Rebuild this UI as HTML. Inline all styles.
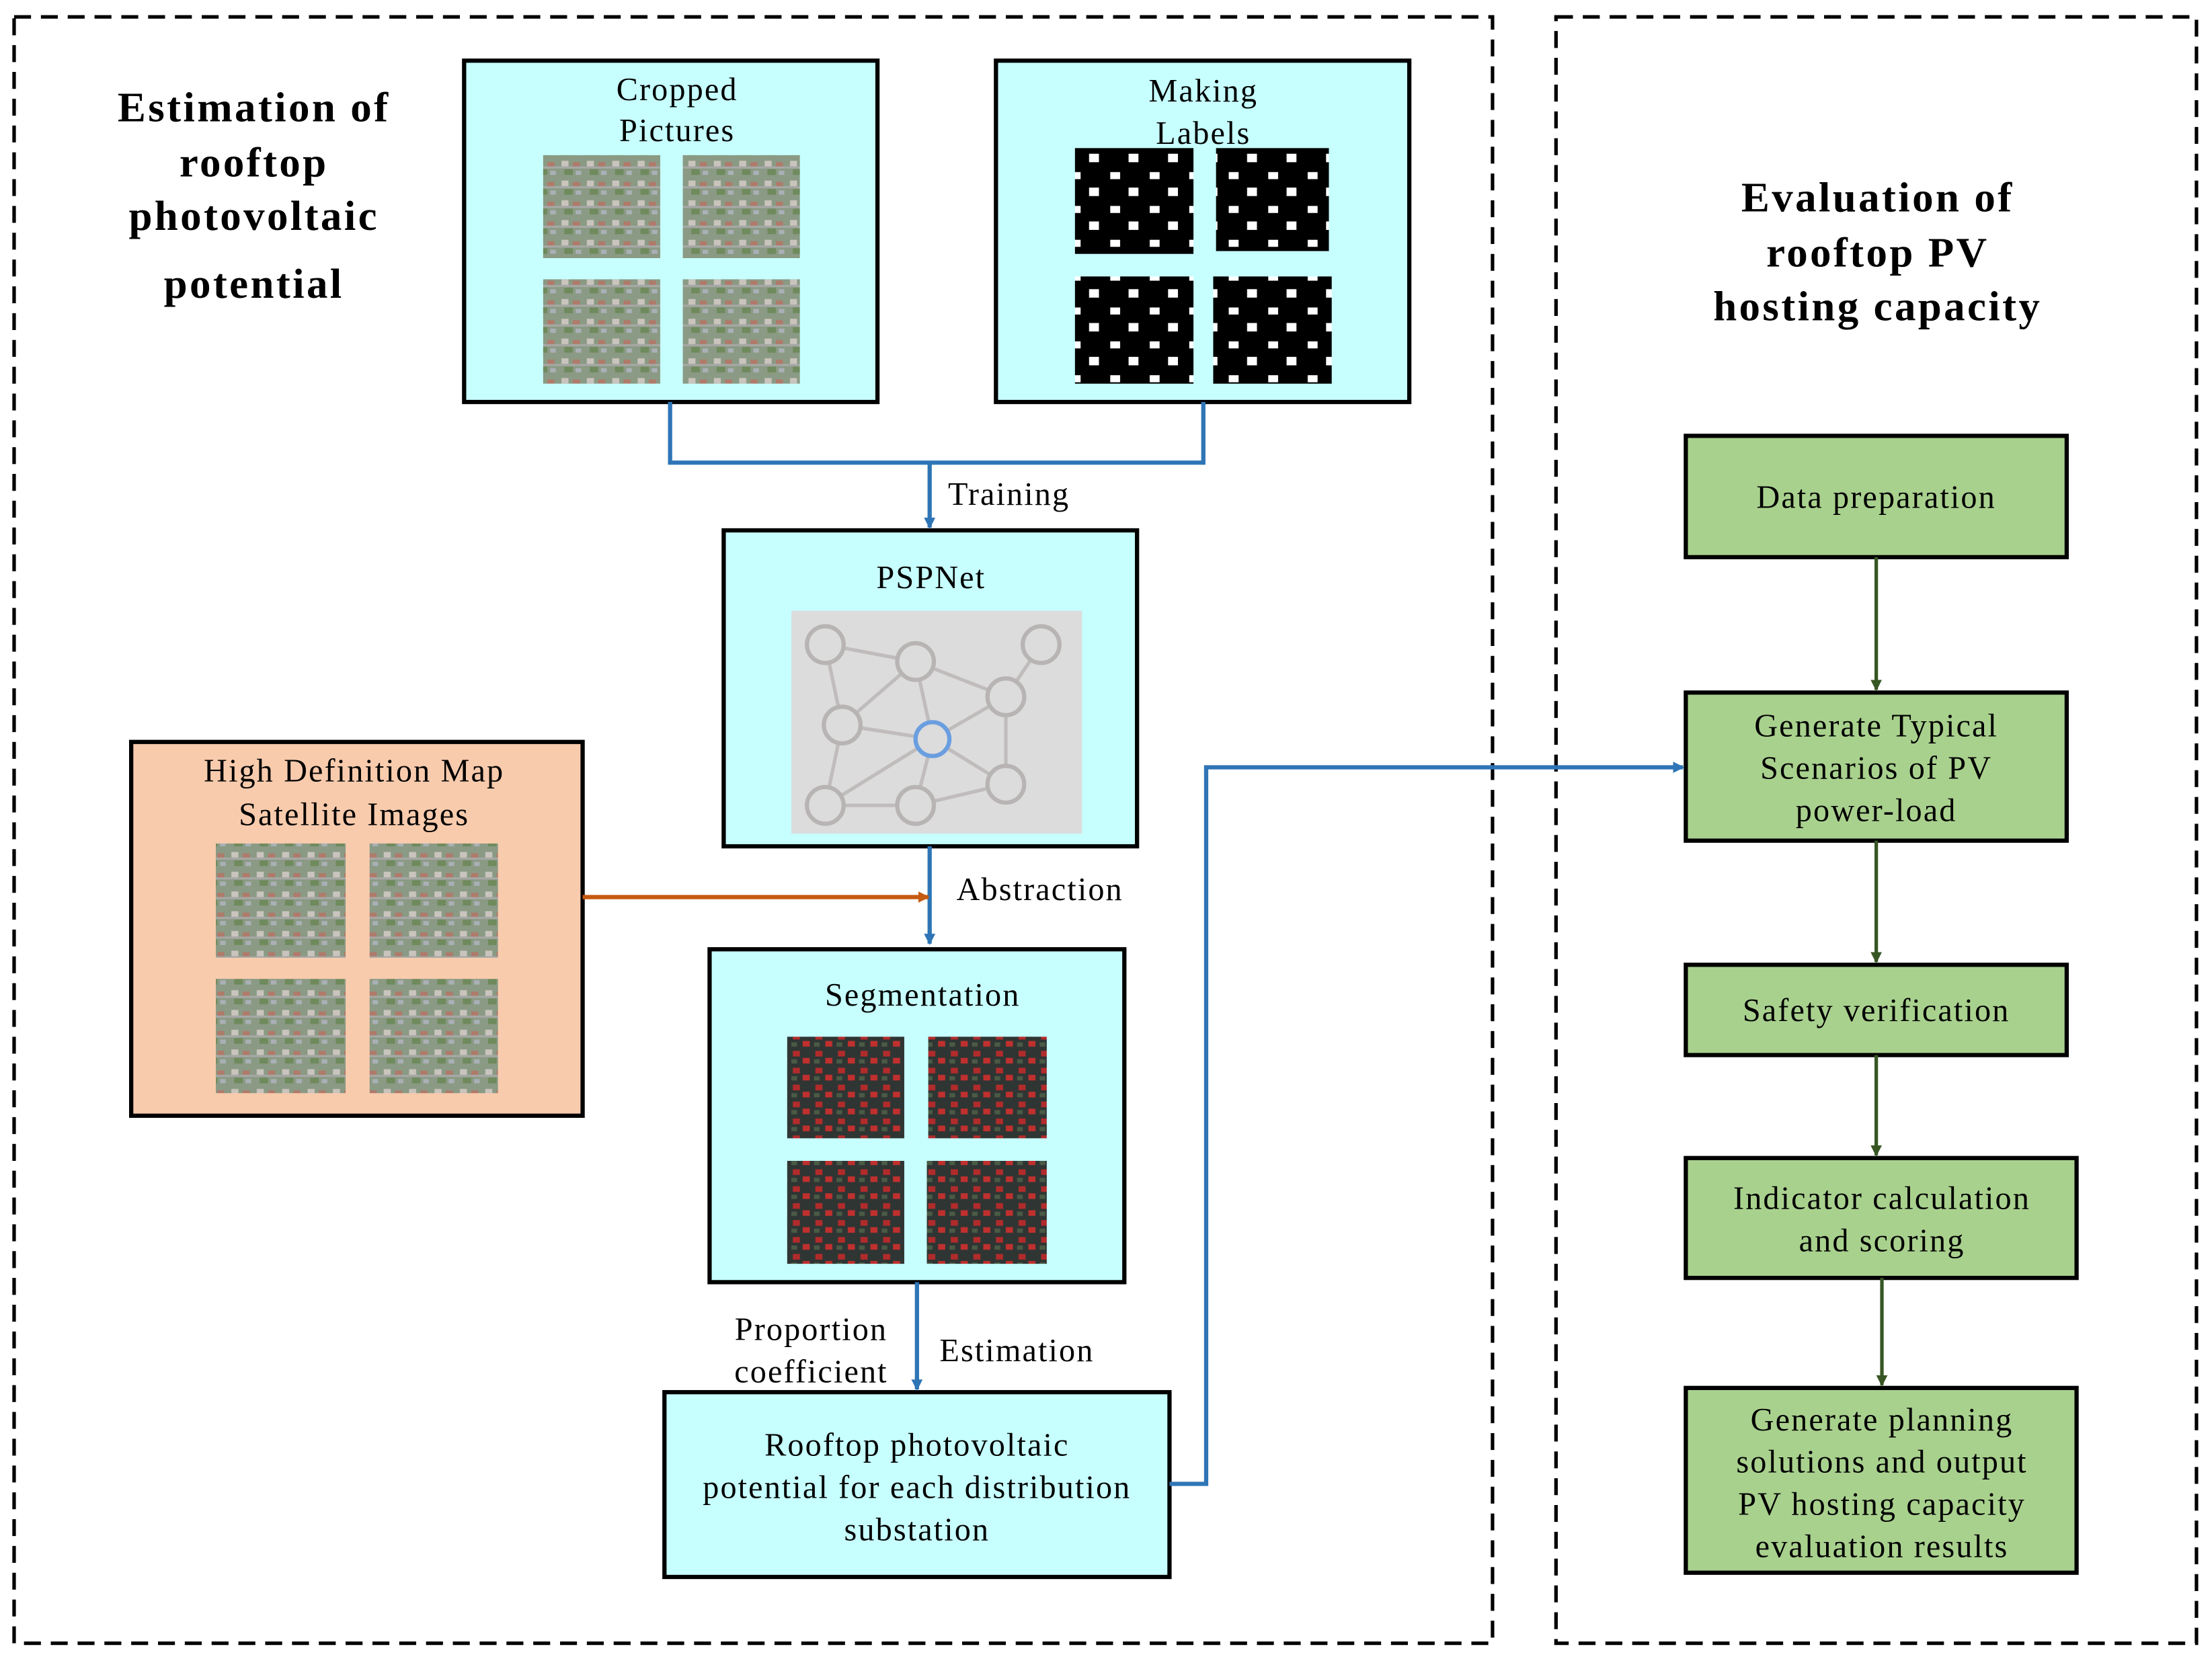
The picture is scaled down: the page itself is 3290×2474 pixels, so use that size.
<!DOCTYPE html>
<html><head><meta charset="utf-8"><style>html,body{margin:0;padding:0;background:#fff}svg{display:block}</style></head>
<body>
<svg width="3290" height="2474" viewBox="0 0 1568 1179" preserveAspectRatio="none" xmlns="http://www.w3.org/2000/svg" style="font-family:'Liberation Serif',serif">
<defs>
<pattern id="aer" width="18" height="14" patternUnits="userSpaceOnUse">
<rect width="18" height="14" fill="#8a9a84"/>
<rect x="2" y="2" width="5" height="4" fill="#c9c4bd"/><rect x="10" y="3" width="5" height="4" fill="#b07a6a"/>
<rect x="4" y="8" width="6" height="4" fill="#6f8a5c"/><rect x="12" y="9" width="4" height="3" fill="#aab0b6"/>
<rect x="0" y="6" width="18" height="1.5" fill="#a7a8a6"/>
</pattern>
<pattern id="seg" width="16" height="12" patternUnits="userSpaceOnUse">
<rect width="16" height="12" fill="#2f3533"/>
<rect x="2" y="1" width="5" height="4" fill="#b22b2b"/><rect x="9" y="6" width="5" height="4" fill="#c0302e"/>
<rect x="1" y="7" width="4" height="3" fill="#4a5a45"/>
</pattern>
<pattern id="lab" width="28" height="24" patternUnits="userSpaceOnUse">
<rect width="28" height="24" fill="#000"/>
<rect x="3" y="2" width="7" height="5" fill="#fff"/><rect x="16" y="13" width="7" height="6" fill="#fff"/>
</pattern>
<marker id="ab" markerWidth="8" markerHeight="8" refX="7" refY="4" orient="auto" markerUnits="userSpaceOnUse"><path d="M0,0 L8,4 L0,8z" fill="#2e75b6"/></marker>
<marker id="ao" markerWidth="8" markerHeight="8" refX="7" refY="4" orient="auto" markerUnits="userSpaceOnUse"><path d="M0,0 L8,4 L0,8z" fill="#c55a11"/></marker>
<marker id="ag" markerWidth="8" markerHeight="8" refX="7" refY="4" orient="auto" markerUnits="userSpaceOnUse"><path d="M0,0 L8,4 L0,8z" fill="#375623"/></marker>
</defs>
<rect x="10" y="12" width="1048" height="1153" fill="none" stroke="#000" stroke-width="2.5" stroke-dasharray="12,7"/>
<rect x="1103" y="12" width="454" height="1153" fill="none" stroke="#000" stroke-width="2.5" stroke-dasharray="12,7"/>
<g font-weight="bold" font-size="30" letter-spacing="1.6" text-anchor="middle">
<text x="180" y="86">Estimation of</text><text x="180" y="125">rooftop</text><text x="180" y="163">photovoltaic</text><text x="180" y="211">potential</text>
<text x="1331" y="150">Evaluation of</text><text x="1331" y="189">rooftop PV</text><text x="1331" y="227">hosting capacity</text>
</g>
<g stroke="#000" stroke-width="3" fill="#c7ffff">
<rect x="329" y="43" width="293" height="242"/><rect x="706" y="43" width="293" height="242"/>
<rect x="513" y="376" width="293" height="224"/><rect x="503" y="673" width="294" height="236"/>
<rect x="471" y="987" width="358" height="131"/>
<rect x="93" y="526" width="320" height="265" fill="#f8cbad"/>
</g>
<g fill="url(#aer)">
<rect x="385" y="110" width="83" height="73"/><rect x="484" y="110" width="83" height="73"/>
<rect x="385" y="198" width="83" height="74"/><rect x="484" y="198" width="83" height="74"/>
<rect x="153" y="598" width="92" height="81"/><rect x="262" y="598" width="91" height="81"/>
<rect x="153" y="694" width="92" height="81"/><rect x="262" y="694" width="91" height="81"/>
</g>
<g fill="url(#lab)">
<rect x="762" y="105" width="84" height="75"/><rect x="862" y="105" width="80" height="73"/>
<rect x="762" y="196" width="84" height="76"/><rect x="860" y="196" width="84" height="76"/>
</g>
<g fill="url(#seg)">
<rect x="558" y="735" width="83" height="72"/><rect x="658" y="735" width="84" height="72"/>
<rect x="558" y="823" width="83" height="73"/><rect x="657" y="823" width="85" height="73"/>
</g>
<rect x="561" y="433" width="206" height="158" fill="#dcdcdc"/>
<g stroke="#c0bcbc" stroke-width="2.5" fill="none">
<path d="M585,457 L649,469 L713,494 L738,457 M585,457 L597,514 L649,469 L661,524 L713,494 L713,556 L649,571 L585,571 L597,514 L661,524 L713,556 M661,524 L649,571 M585,571 L661,524"/>
</g>
<g stroke="#b8b4b4" stroke-width="3" fill="#dcdcdc">
<circle cx="585" cy="457" r="13"/><circle cx="649" cy="469" r="13"/><circle cx="738" cy="457" r="13"/><circle cx="713" cy="494" r="13"/>
<circle cx="597" cy="514" r="13"/><circle cx="713" cy="556" r="13"/><circle cx="585" cy="571" r="13"/><circle cx="649" cy="571" r="13"/>
</g>
<circle cx="661" cy="524" r="12" stroke="#6a9ee0" stroke-width="3" fill="#dcdcdc"/>
<g font-size="23" letter-spacing="1" text-anchor="middle">
<text x="480" y="71">Cropped</text><text x="480" y="100">Pictures</text>
<text x="853" y="72">Making</text><text x="853" y="102">Labels</text>
<text x="660" y="417">PSPNet</text><text x="654" y="713">Segmentation</text>
<text x="251" y="554">High Definition Map</text><text x="251" y="585">Satellite Images</text>
<text x="650" y="1032">Rooftop photovoltaic</text><text x="650" y="1062">potential for each distribution</text><text x="650" y="1092">substation</text>
<text x="575" y="950">Proportion</text><text x="575" y="980">coefficient</text>
</g>
<g font-size="23" letter-spacing="1">
<text x="672" y="358">Training</text><text x="678" y="638">Abstraction</text><text x="666" y="965">Estimation</text>
</g>
<g stroke="#2e75b6" stroke-width="3" fill="none">
<path d="M475,285 V328 H853 V285"/>
<path d="M659,328 V374" marker-end="url(#ab)"/>
<path d="M659,600 V669" marker-end="url(#ab)"/>
<path d="M650,909 V985" marker-end="url(#ab)"/>
<path d="M829,1052 H855 V544 H1193" marker-end="url(#ab)"/>
</g>
<path d="M413,636 H658" stroke="#c55a11" stroke-width="3" marker-end="url(#ao)"/>
<g stroke="#000" stroke-width="3" fill="#a9d18e">
<rect x="1195" y="309" width="270" height="86"/><rect x="1195" y="491" width="270" height="105"/>
<rect x="1195" y="684" width="270" height="64"/><rect x="1195" y="821" width="277" height="85"/>
<rect x="1195" y="984" width="277" height="131"/>
</g>
<g stroke="#375623" stroke-width="2.5">
<path d="M1330,395 V489" marker-end="url(#ag)"/><path d="M1330,596 V682" marker-end="url(#ag)"/>
<path d="M1330,748 V819" marker-end="url(#ag)"/><path d="M1334,906 V982" marker-end="url(#ag)"/>
</g>
<g font-size="23" letter-spacing="1" text-anchor="middle">
<text x="1330" y="360">Data preparation</text>
<text x="1330" y="522">Generate  Typical</text><text x="1330" y="552">Scenarios of PV</text><text x="1330" y="582">power-load</text>
<text x="1330" y="724">Safety verification</text>
<text x="1334" y="857">Indicator calculation</text><text x="1334" y="887">and scoring</text>
<text x="1334" y="1014">Generate  planning</text><text x="1334" y="1044">solutions and output</text><text x="1334" y="1074">PV hosting capacity</text><text x="1334" y="1104">evaluation results</text>
</g>
</svg>
</body></html>
